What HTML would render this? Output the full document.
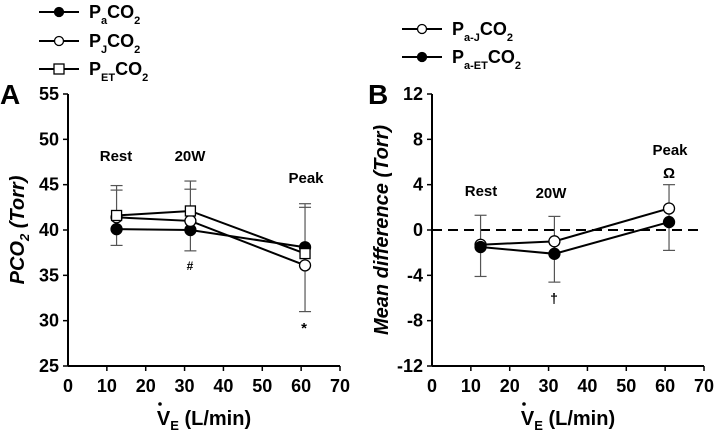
<!DOCTYPE html>
<html><head><meta charset="utf-8"><style>
html,body{margin:0;padding:0;background:#fff;}
svg{display:block;font-family:"Liberation Sans",Arial,sans-serif;font-weight:bold;}
</style></head><body>
<svg id="c" width="714" height="434" viewBox="0 0 714 434"></svg>
<script>
const xVals=[12.5,31.5,61];
const paCO2=[40.1,40.0,38.1];
const pjCO2=[41.4,41.0,36.1];
const petCO2=[41.6,42.1,37.4];
const aUpper=[44.9,45.4,42.9];
const aUpper2=[44.4,44.5,42.5];
const aLower=[38.3,37.7,31.0];
const pajDiff=[-1.3,-1.0,1.9];
const paetDiff=[-1.5,-2.1,0.7];
const bUpper=[1.3,1.2,4.0];
const bLower=[-4.1,-4.6,-1.8];
const xTicks=[0,10,20,30,40,50,60,70];
const yTicksA=[25,30,35,40,45,50,55];
const yTicksB=[-12,-8,-4,0,4,8,12];

const svg=document.getElementById('c');
const NS='http://www.w3.org/2000/svg';
function mk(tag,attrs,parent,text){const e=document.createElementNS(NS,tag);for(const k in attrs)e.setAttribute(k,attrs[k]);if(text!==undefined)e.textContent=text;(parent||svg).appendChild(e);return e;}

function panel(x0,x1,yTop,yBot,ymin,ymax,yTicks,name){
  const g=mk('g',{});
  
  
  const sx=v=>x0+(v-0)/70*(x1-x0);
  const sy=v=>yBot-(v-ymin)/(ymax-ymin)*(yBot-yTop);
  mk('line',{x1:x0,y1:yTop,x2:x0,y2:yBot,stroke:'#000','stroke-width':2},g);
  mk('line',{x1:x0,y1:yBot,x2:x1,y2:yBot,stroke:'#000','stroke-width':2},g);
  yTicks.forEach(t=>{const y=sy(t);
    mk('line',{x1:x0-5,y1:y,x2:x0,y2:y,stroke:'#000','stroke-width':1.5},g);
    const tx=mk('text',{x:x0-9,y:y+6,'text-anchor':'end','font-size':18},g,String(t));
    });
  xTicks.forEach(t=>{const x=sx(t);
    if(t>0)mk('line',{x1:x,y1:yBot,x2:x,y2:yBot+5,stroke:'#000','stroke-width':1.5},g);
    const tx=mk('text',{x:x,y:yBot+26,'text-anchor':'middle','font-size':18},g,String(t));
    });
  const xl=mk('text',{x:(x0+x1)/2,y:yBot+59,'text-anchor':'middle','font-size':20},g);
  
  xl.innerHTML='V<tspan font-size="13" dy="5">E</tspan><tspan dy="-5"> (L/min)</tspan>';
  mk('circle',{cx:(x0+x1)/2-44,cy:yBot+38,r:1.8,fill:'#000'},g);
  return {g,sx,sy};
}
function errbar(g,x,lo,hi,cap){
  const e=mk('g',{},g);
  
  
  mk('line',{x1:x,y1:lo,x2:x,y2:hi,stroke:'#555','stroke-width':1.2},e);
  if(cap.lo)mk('line',{x1:x-6,y1:lo,x2:x+6,y2:lo,stroke:'#555','stroke-width':1.2},e);
  if(cap.hi)mk('line',{x1:x-6,y1:hi,x2:x+6,y2:hi,stroke:'#555','stroke-width':1.2},e);
}
function series(g,sx,sy,vals,marker,name){
  const s=mk('g',{},g);
  
  
  mk('polyline',{points:vals.map((v,i)=>sx(xVals[i])+','+sy(v)).join(' '),fill:'none',stroke:'#000','stroke-width':2},s);
  vals.forEach((v,i)=>{const x=sx(xVals[i]),y=sy(v);let m;
    if(marker==='square')m=mk('rect',{x:x-5,y:y-5,width:10,height:10,fill:'#fff',stroke:'#000','stroke-width':1.3},s);
    else m=mk('circle',{cx:x,cy:y,r:5.5,fill:marker==='filled'?'#000':'#fff',stroke:'#000','stroke-width':1.3},s);
    
    });
}

// Panel A
const A=panel(68,340,94,366,25,55,yTicksA,'panel-a');
xVals.forEach((xv,i)=>{const x=A.sx(xv);
  errbar(A.g,x,A.sy(aLower[i]),A.sy(aUpper[i]),{lo:true,hi:true});
  mk('line',{x1:x-6,y1:A.sy(aUpper2[i]),x2:x+6,y2:A.sy(aUpper2[i]),stroke:'#555','stroke-width':1.2},A.g);});
series(A.g,A.sx,A.sy,paCO2,'filled','series-paco2');
series(A.g,A.sx,A.sy,pjCO2,'open','series-pjco2');
series(A.g,A.sx,A.sy,petCO2,'square','series-petco2');
[['Rest',116,161],['20W',190,161],['Peak',306,183]].forEach(d=>{const t=mk('text',{x:d[1],y:d[2],'text-anchor':'middle','font-size':15},A.g,d[0]);});
mk('text',{x:190,y:270,'text-anchor':'middle','font-size':12},A.g,'#');
mk('text',{x:304,y:333,'text-anchor':'middle','font-size':15},A.g,'*');
const yA=mk('text',{transform:'translate(24,230) rotate(-90)','text-anchor':'middle','font-size':20,'font-style':'italic'});

yA.innerHTML='PCO<tspan font-size="13" dy="5">2</tspan><tspan dy="-5"> (Torr)</tspan>';
mk('text',{x:0,y:104,'font-size':28},svg,'A');

function leg(x,y,marker,main,sub,name){
  const g=mk('g',{});
  mk('line',{x1:x,y1:y,x2:x+40,y2:y,stroke:'#000','stroke-width':2},g);
  if(marker==='square')mk('rect',{x:x+15,y:y-5,width:10,height:10,fill:'#fff',stroke:'#000','stroke-width':1.3},g);
  else mk('circle',{cx:x+20,cy:y,r:4.5,fill:marker==='filled'?'#000':'#fff',stroke:'#000','stroke-width':1.3},g);
  const t=mk('text',{x:x+50,y:y+6,'font-size':18},g);
  t.innerHTML='P<tspan font-size="11" dy="6">'+sub+'</tspan><tspan dy="-6">CO</tspan><tspan font-size="11" dy="6">2</tspan>';
}
leg(39,12,'filled','P','a','legend-paco2');
leg(39,41,'open','P','J','legend-pjco2');
leg(39,69,'square','P','ET','legend-petco2');

// Panel B
const B=panel(432,704,94,366,-12,12,yTicksB,'panel-b');
mk('line',{x1:432,y1:B.sy(0),x2:704,y2:B.sy(0),stroke:'#000','stroke-width':2,'stroke-dasharray':'10,6'},B.g);
xVals.forEach((xv,i)=>{const x=B.sx(xv);
  errbar(B.g,x,B.sy(bLower[i]),B.sy(bUpper[i]),{lo:true,hi:true});});
series(B.g,B.sx,B.sy,pajDiff,'open','series-pa-j');
series(B.g,B.sx,B.sy,paetDiff,'filled','series-pa-et');
[['Rest',481,196],['20W',551,198],['Peak',670,155]].forEach(d=>{const t=mk('text',{x:d[1],y:d[2],'text-anchor':'middle','font-size':15},B.g,d[0]);});
mk('text',{x:554,y:303,'text-anchor':'middle','font-size':14},B.g,'†');
mk('text',{x:669,y:178,'text-anchor':'middle','font-size':15},B.g,'Ω');
const yB=mk('text',{transform:'translate(388,230) rotate(-90)','text-anchor':'middle','font-size':20,'font-style':'italic'},svg,'Mean difference (Torr)');

mk('text',{x:368,y:104,'font-size':28},svg,'B');
leg(402,29,'open','P','a-J','legend-pa-j');
leg(402,57,'filled','P','a-ET','legend-pa-et');
</script>
</body></html>
